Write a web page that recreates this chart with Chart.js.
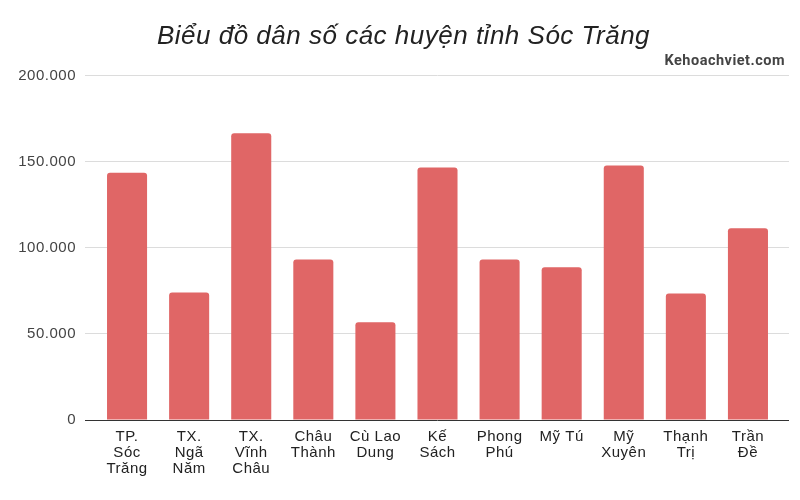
<!DOCTYPE html>
<html>
<head>
<meta charset="utf-8">
<script src="https://cdn.jsdelivr.net/npm/chart.js@4"></script>
<style>
html,body{margin:0;padding:0;background:#fff;}
#wrap{width:800px;height:500px;position:relative;}
</style>
</head>
<body>
<div id="wrap"><canvas id="c" width="800" height="500"></canvas></div>
<script>
const categories = [
  ["TP.", "Sóc", "Trăng"],
  ["TX.", "Ngã", "Năm"],
  ["TX.", "Vĩnh", "Châu"],
  ["Châu", "Thành"],
  ["Cù Lao", "Dung"],
  ["Kế", "Sách"],
  ["Phong", "Phú"],
  ["Mỹ Tú"],
  ["Mỹ", "Xuyên"],
  ["Thạnh", "Trị"],
  ["Trần", "Đề"]
];
const population = [143600, 74000, 166500, 93200, 56800, 146700, 93200, 88700, 147800, 73400, 111300];
const yTicks = [0, 50000, 100000, 150000, 200000];
const titleText = "Biểu đồ dân số các huyện tỉnh Sóc Trăng";
const watermark = "Kehoachviet.com";

function fmt(v){ return v.toLocaleString('de-DE'); }

const spacingPlugin = {
  id: 'spacing',
  afterLayout(chart){ if (chart.titleBlock) { chart.titleBlock.left = 22; } },
  beforeDraw(chart){ chart.ctx.save(); chart.ctx.letterSpacing = '0.5px'; },
  afterDraw(chart){ chart.ctx.restore(); }
};

new Chart(document.getElementById('c'), {
  type: 'bar',
  data: {
    labels: categories,
    datasets: [{
      data: population,
      backgroundColor: '#e06666',
      borderRadius: 3,
      borderSkipped: 'bottom',
      categoryPercentage: 1,
      barPercentage: 0.645
    }]
  },
  plugins: [spacingPlugin],
  options: {
    responsive: false,
    animation: false,
    devicePixelRatio: 1,
    layout: { padding: { left: 0, right: 15, top: 0, bottom: 0 } },
    plugins: {
      legend: { display: false },
      tooltip: { enabled: false },
      title: {
        display: true,
        text: titleText,
        color: '#222',
        font: { family: 'Liberation Sans, Arial, sans-serif', size: 26, style: 'italic', weight: 'normal' },
        padding: { top: 21, bottom: 0 }
      },
      subtitle: {
        display: true,
        text: watermark,
        align: 'end',
        color: '#444',
        font: { family: 'Roboto, sans-serif', size: 14.5, weight: 'bold' },
        padding: { top: 0, bottom: 6 }
      }
    },
    scales: {
      x: {
        grid: { display: false, drawTicks: false },
        border: { display: false },
        ticks: {
          color: '#222',
          padding: 9,
          maxRotation: 0,
          autoSkip: false,
          font: { family: 'Liberation Sans, Arial, sans-serif', size: 15, lineHeight: 1.067 }
        },
        afterFit: s => { s.height = 80; }
      },
      y: {
        position: 'left',
        min: 0, max: 200000,
        afterBuildTicks: s => { s.ticks = yTicks.map(v => ({ value: v })); },
        grid: {
          color: c => (c.tick && c.tick.value === 0) ? '#333' : '#dcdcdc',
          lineWidth: 1,
          drawTicks: true,
          tickLength: 11
        },
        border: { display: false },
        ticks: {
          color: '#444',
          padding: 9,
          font: { family: 'Liberation Sans, Arial, sans-serif', size: 15 },
          callback: v => fmt(v)
        },
        afterFit: s => { s.width = 96; }
      },
      y2: {
        position: 'right',
        min: 0, max: 200000,
        afterBuildTicks: s => { s.ticks = yTicks.map(v => ({ value: v })); },
        grid: {
          color: c => (c.tick && c.tick.value === 0) ? '#333' : '#dcdcdc',
          drawOnChartArea: false,
          drawTicks: true,
          tickLength: 10
        },
        border: { display: false },
        ticks: { display: false },
        afterFit: s => { s.width = 6; }
      }
    }
  }
});
</script>
</body>
</html>
